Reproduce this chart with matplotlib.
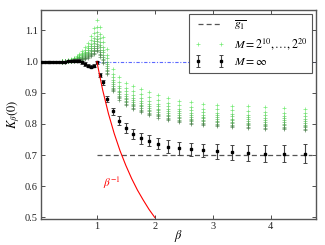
import matplotlib
matplotlib.use("Agg")
import matplotlib.pyplot as plt

plt.rcParams["font.family"] = ["Liberation Serif", "DejaVu Serif"]
plt.rcParams["mathtext.fontset"] = "stix"

# M = infinity (black points with error bars)
beta_inf = [0.05, 0.10, 0.15, 0.20, 0.25, 0.30, 0.35, 0.40, 0.45, 0.50,
            0.55, 0.60, 0.65, 0.70, 0.75, 0.80, 0.85, 0.90, 0.95, 1.00,
            1.06, 1.10, 1.18, 1.28, 1.38, 1.50, 1.63, 1.76, 1.90, 2.06,
            2.23, 2.42, 2.62, 2.83, 3.07, 3.33, 3.61, 3.91, 4.23, 4.59]
k_inf = [1.000, 1.000, 1.000, 1.000, 1.000, 1.000, 1.000, 1.000, 1.000, 1.001,
         1.002, 1.003, 1.003, 1.002, 0.998, 0.992, 0.987, 0.984, 0.986, 0.998,
         0.957, 0.933, 0.880, 0.840, 0.810, 0.787, 0.769, 0.754, 0.746, 0.737,
         0.727, 0.722, 0.718, 0.715, 0.712, 0.709, 0.707, 0.705, 0.705, 0.704]
err_inf = [0.002, 0.002, 0.002, 0.002, 0.002, 0.002, 0.003, 0.003, 0.003, 0.003,
           0.004, 0.004, 0.004, 0.005, 0.005, 0.005, 0.005, 0.005, 0.005, 0.005,
           0.006, 0.008, 0.010, 0.012, 0.014, 0.015, 0.016, 0.017, 0.018, 0.019,
           0.020, 0.021, 0.022, 0.022, 0.023, 0.024, 0.026, 0.027, 0.028, 0.030]

# finite M = 2^10 ... 2^20 (green crosses)
beta_fin = [0.40, 0.45, 0.50, 0.55, 0.60, 0.65, 0.70, 0.75, 0.80, 0.85, 0.90,
            0.95, 1.00, 1.06, 1.10, 1.18, 1.28, 1.38, 1.50, 1.63, 1.76, 1.90,
            2.06, 2.23, 2.42, 2.62, 2.83, 3.07, 3.33, 3.61, 3.91, 4.23, 4.59]
k_m10 = [1.002, 1.003, 1.005, 1.008, 1.012, 1.017, 1.024, 1.033, 1.045, 1.060, 1.082,
         1.108, 1.133, 1.110, 1.080, 1.040, 0.976, 0.950, 0.931, 0.920, 0.912, 0.902,
         0.893, 0.883, 0.875, 0.870, 0.864, 0.862, 0.858, 0.856, 0.853, 0.851, 0.849]
k_m11 = [1.002, 1.002, 1.004, 1.006, 1.010, 1.014, 1.020, 1.027, 1.037, 1.049, 1.068,
         1.090, 1.111, 1.089, 1.061, 1.022, 0.960, 0.934, 0.916, 0.904, 0.896, 0.886,
         0.877, 0.867, 0.860, 0.855, 0.849, 0.847, 0.843, 0.841, 0.838, 0.836, 0.834]
k_m12 = [1.001, 1.002, 1.003, 1.005, 1.008, 1.012, 1.016, 1.023, 1.031, 1.042, 1.057,
         1.076, 1.095, 1.074, 1.048, 1.010, 0.949, 0.923, 0.905, 0.893, 0.884, 0.874,
         0.865, 0.856, 0.849, 0.843, 0.838, 0.836, 0.832, 0.830, 0.827, 0.826, 0.824]
k_m13 = [1.001, 1.002, 1.003, 1.005, 1.007, 1.010, 1.014, 1.020, 1.027, 1.036, 1.050,
         1.066, 1.083, 1.063, 1.038, 1.000, 0.940, 0.914, 0.897, 0.884, 0.875, 0.865,
         0.857, 0.848, 0.841, 0.835, 0.830, 0.828, 0.824, 0.822, 0.819, 0.818, 0.816]
k_m14 = [1.001, 1.001, 1.003, 1.004, 1.006, 1.009, 1.012, 1.017, 1.023, 1.031, 1.043,
         1.058, 1.073, 1.053, 1.029, 0.992, 0.933, 0.907, 0.890, 0.877, 0.868, 0.858,
         0.849, 0.840, 0.834, 0.828, 0.823, 0.821, 0.817, 0.815, 0.812, 0.811, 0.809]
k_m15 = [1.001, 1.001, 1.002, 1.003, 1.005, 1.007, 1.010, 1.015, 1.020, 1.027, 1.038,
         1.051, 1.065, 1.045, 1.022, 0.986, 0.927, 0.901, 0.884, 0.871, 0.862, 0.852,
         0.843, 0.835, 0.828, 0.822, 0.818, 0.815, 0.812, 0.809, 0.807, 0.805, 0.803]
k_m16 = [1.000, 1.001, 1.002, 1.003, 1.004, 1.006, 1.009, 1.012, 1.017, 1.024, 1.033,
         1.044, 1.057, 1.038, 1.015, 0.979, 0.921, 0.895, 0.879, 0.865, 0.856, 0.846,
         0.838, 0.829, 0.823, 0.817, 0.812, 0.810, 0.806, 0.804, 0.801, 0.800, 0.798]
k_m17 = [1.000, 1.001, 1.002, 1.002, 1.004, 1.005, 1.007, 1.011, 1.014, 1.020, 1.028,
         1.038, 1.050, 1.031, 1.009, 0.974, 0.916, 0.890, 0.874, 0.860, 0.851, 0.841,
         0.832, 0.824, 0.818, 0.812, 0.808, 0.805, 0.802, 0.799, 0.797, 0.795, 0.793]
k_m18 = [1.000, 1.000, 1.001, 1.002, 1.003, 1.005, 1.006, 1.009, 1.012, 1.017, 1.024,
         1.033, 1.044, 1.025, 1.004, 0.969, 0.912, 0.886, 0.870, 0.856, 0.846, 0.836,
         0.828, 0.820, 0.814, 0.808, 0.803, 0.801, 0.797, 0.795, 0.792, 0.791, 0.789]
k_m19 = [1.000, 1.000, 1.001, 1.001, 1.003, 1.004, 1.005, 1.007, 1.010, 1.014, 1.020,
         1.028, 1.038, 1.020, 0.999, 0.964, 0.908, 0.882, 0.865, 0.852, 0.842, 0.832,
         0.824, 0.816, 0.809, 0.804, 0.799, 0.796, 0.793, 0.790, 0.788, 0.787, 0.785]
k_m20 = [1.000, 1.000, 1.001, 1.001, 1.002, 1.003, 1.004, 1.006, 1.008, 1.012, 1.017,
         1.024, 1.033, 1.015, 0.995, 0.960, 0.904, 0.878, 0.862, 0.848, 0.838, 0.828,
         0.820, 0.812, 0.806, 0.800, 0.796, 0.793, 0.790, 0.787, 0.785, 0.784, 0.782]
finite_series = [k_m10, k_m11, k_m12, k_m13, k_m14, k_m15,
                 k_m16, k_m17, k_m18, k_m19, k_m20]

# beta^{-1} reference curve
beta_red = [1.0, 1.1, 1.2, 1.3, 1.4, 1.5, 1.6, 1.7, 1.8, 1.9, 2.0]
k_red = [1.0, 0.909, 0.833, 0.769, 0.714, 0.667, 0.625, 0.588, 0.556, 0.526, 0.5]

# horizontal guides
beta_g1 = [1.0, 4.72]
k_g1 = [0.70, 0.70]
beta_one = [1.0, 4.78]
k_one = [1.0, 1.0]

fig = plt.figure(figsize=(3.25, 2.45), dpi=100)
ax = fig.add_axes([0.125, 0.106, 0.847, 0.853])

ax.plot(beta_one, k_one, color="#3344ff", linestyle=(0, (3, 1.5, 1, 1.5)),
        linewidth=0.8, alpha=0.8, zorder=1)
ax.plot(beta_g1, k_g1, color="#555555", linestyle=(0, (4, 2.5)),
        linewidth=0.9, label=r"$\overline{g_1}$", zorder=2)

n = len(finite_series)
for i, vals in enumerate(finite_series):
    t = i / (n - 1)
    col = (0.32 - 0.04 * t, 0.90 - 0.42 * t, 0.32 - 0.04 * t)
    ax.plot(beta_fin, vals, linestyle="none", marker="+", markersize=3.5,
            markeredgewidth=0.5, color=col, alpha=0.8, zorder=3,
            label=r"$M=2^{10},\ldots,2^{20}$" if i == 0 else None)

ax.errorbar(beta_inf, k_inf, yerr=err_inf, fmt="s", color="k", markersize=1.8,
            ecolor="#444444", elinewidth=0.8, capsize=1.6, capthick=0.7,
            zorder=4, label=r"$M=\infty$")

ax.plot(beta_red, k_red, color="red", linewidth=0.8, zorder=5)
ax.text(1.1, 0.61, r"$\beta^{-1}$", color="red", fontsize=8,
        ha="left", va="center")

ax.set_xlim(0.03, 4.78)
ax.set_ylim(0.495, 1.165)
ax.set_xticks([1, 2, 3, 4])
ax.set_yticks([0.5, 0.6, 0.7, 0.8, 0.9, 1.0, 1.1])
ax.set_yticklabels(["0.5", "0.6", "0.7", "0.8", "0.9", "1.0", "1.1"])
ax.tick_params(direction="in", top=True, right=True, labelsize=7.5,
               length=3, width=0.6, pad=2, colors="#333333",
               labelcolor="#222222")
for s in ax.spines.values():
    s.set_color("#555555")
    s.set_linewidth(1.0)

ax.set_xlabel(r"$\beta$", fontsize=9)
ax.xaxis.set_label_coords(0.5, -0.045)
ax.set_ylabel(r"$K_\beta(0)$", fontsize=9, labelpad=2)

leg = ax.legend(loc="upper right", fontsize=8.5, numpoints=2, fancybox=False,
                framealpha=1, edgecolor="#555555", borderaxespad=0.3,
                handlelength=2.6, labelspacing=0.35)
leg.get_frame().set_linewidth(0.8)

fig.savefig("out.png", dpi=100)
